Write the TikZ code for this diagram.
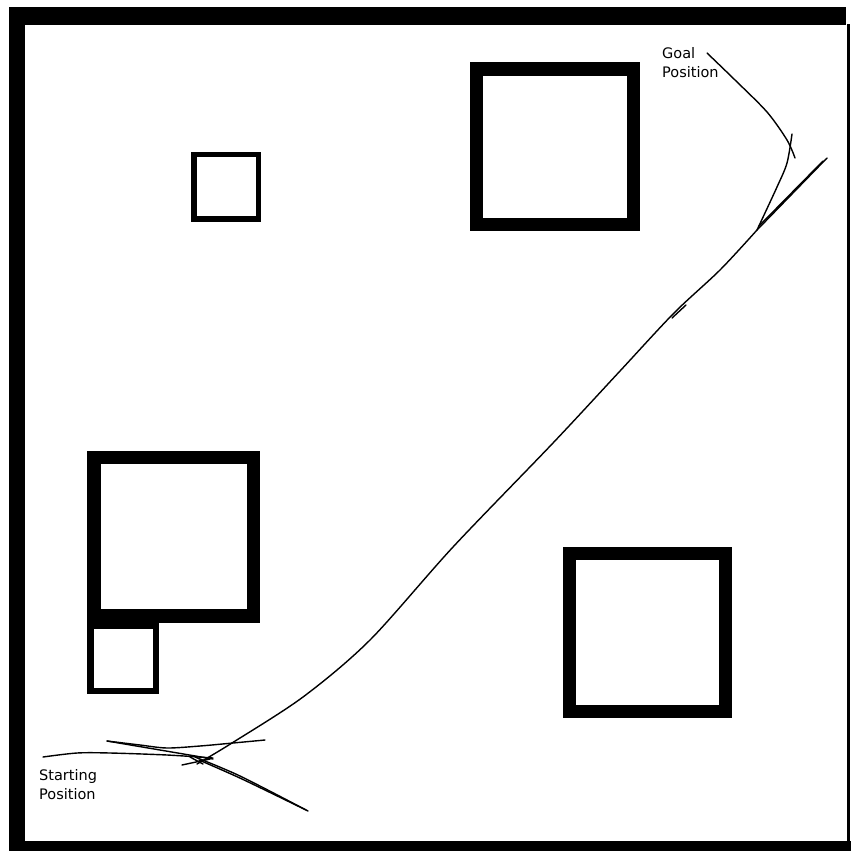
\documentclass[tikz,border=0pt]{standalone}
\usepackage{fontspec}
\setmainfont{DejaVu Sans}
\begin{document}
\begin{tikzpicture}[x=1pt,y=-1pt,
  bigobs/.style={draw=black,line width=13pt,rectangle,inner sep=0pt,fill=none},
  smallobs/.style={draw=black,line width=6pt,rectangle,inner sep=0pt,fill=none},
  traj/.style={draw=black,line width=1.4pt,line cap=round,line join=round},
  lbl/.style={align=left,inner sep=0pt,font=\fontsize{14.5}{19}\selectfont,anchor=north west}]
\useasboundingbox (0,0) rectangle (851,851);
% frame
\fill[black] (9,7) rectangle (846,25);
\fill[black] (9,7) rectangle (25,851);
\fill[black] (9,841) rectangle (851,851);
\fill[black] (847,24) rectangle (850,851);
% obstacles
\node[bigobs,minimum width=157pt,minimum height=155.5pt] (o1) at (555,146.75) {};
\node[smallobs,line width=5.5pt,minimum width=64.5pt,minimum height=64.5pt] (o2) at (226.25,186.75) {};
\node[bigobs,line width=13.5pt,minimum width=159.5pt,minimum height=158.5pt] (o3) at (173.75,536.75) {};
\node[smallobs,line width=6.5pt,minimum width=65.5pt,minimum height=65pt] (o4) at (123.25,658.5) {};
\node[bigobs,minimum width=156.5pt,minimum height=158.5pt] (o5) at (647.25,632.25) {};
% labels
\node[lbl] (start) at (39,769) {Starting\\Position};
\node[lbl] (goal) at (662,47) {Goal\\Position};
% start region strands
\coordinate (s0) at (197,764);
\draw[traj] plot[smooth] coordinates {(43,757) (77,753) (110,753) (167,755) (213,758)};
\draw[traj] plot[smooth] coordinates {(107,741) (140,745) (167,748) (200,746) (233,743) (265,740)};
\draw[traj] (107,741) -- (213,759);
\draw[traj] plot[smooth] coordinates {(195,757) (240,776) (308,811)};
\draw[traj] plot[smooth] coordinates {(199,760) (242,779) (306,810)};
\draw[traj] (182,765) -- (210,759);
\draw[traj] (190,757) -- (203,764);
% main path
\draw[traj] plot[smooth,tension=0.5] coordinates {(s0) (232,743) (303,697) (370,640) (453,547) (553,443) (620,371) (674,313) (720,270) (757,230)};
\draw[traj] (672,318) -- (686,305);
% near goal
\coordinate (j) at (757,230);
\draw[traj] (j) -- (827,158);
\draw[traj] (759,226) -- (823,161);
\draw[traj] plot[smooth] coordinates {(j) (777,187) (787,163) (792,134)};
\draw[traj] plot[smooth] coordinates {(707,53) (735,80) (767,112) (787,140) (795,158)};
\end{tikzpicture}
\end{document}
